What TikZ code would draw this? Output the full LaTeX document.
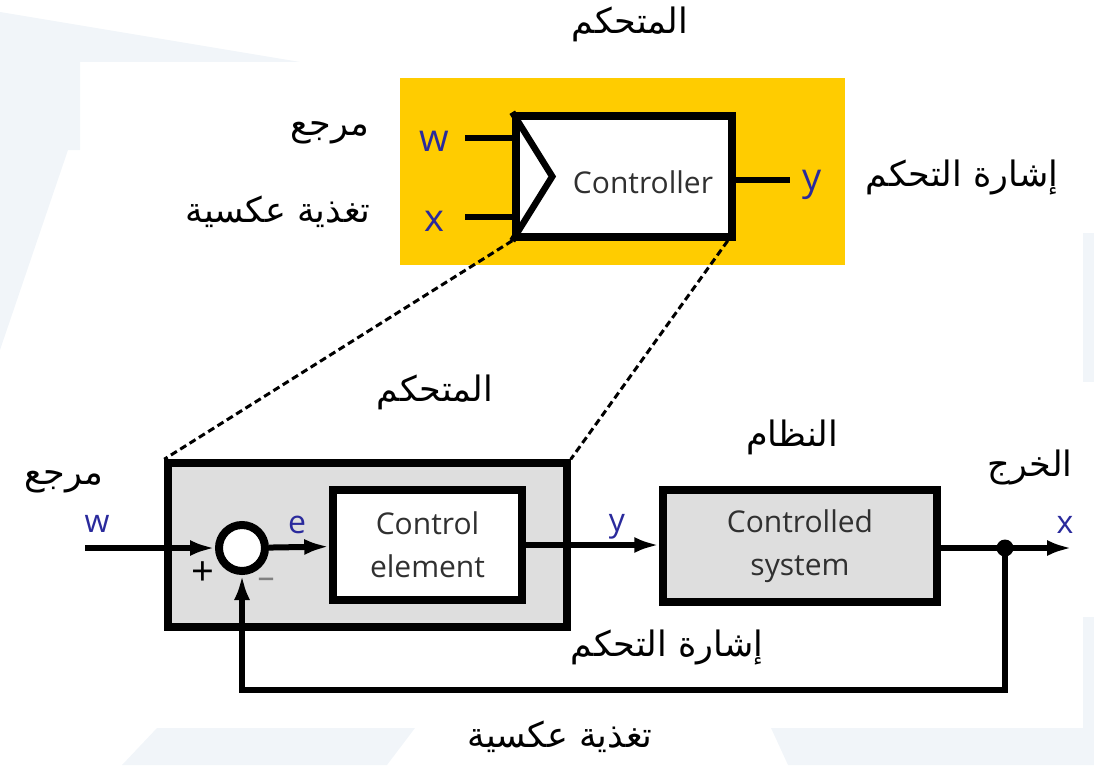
\documentclass[tikz,border=0pt]{standalone}
\usepackage{fontspec}
\usetikzlibrary{arrows.meta,positioning}
\newfontfamily\uifont{Open Sans}
\newfontfamily\arabicfont[Script=Arabic]{DejaVu Sans}
\TeXXeTstate=1
\definecolor{ctrlyellow}{HTML}{FFCC00}
\definecolor{boxgray}{HTML}{DEDEDE}
\definecolor{sigblue}{HTML}{2A2A9C}
\definecolor{wmark}{HTML}{F1F5F9}
\definecolor{txtgray}{HTML}{303030}

\tikzset{
  blk/.style={draw,line width=7.5pt,inner sep=0pt},
  wire/.style={line width=6pt},
  sig/.style={line width=6pt,-{Latex[length=25pt,width=16pt]}},
  lbl/.style={text=sigblue,font=\uifont\fontsize{32}{34}\selectfont},
  biglbl/.style={text=sigblue,font=\uifont\fontsize{38}{40}\selectfont},
  blktext/.style={text=txtgray,font=\uifont\fontsize{30}{43}\selectfont,align=center},
  ar/.style={font=\arabicfont\fontsize{35}{40}\selectfont},
  zoomline/.style={line width=3pt,dash pattern=on 7pt off 4pt}
}

\begin{document}
\begin{tikzpicture}[x=1pt,y=-1pt]
  \useasboundingbox (0,0) rectangle (1094,765);
  \fill[wmark] (0,12) -- (300,62) -- (0,62) -- cycle;
  \fill[wmark] (0,62) -- (80,62) -- (80,150) -- (68,150) -- (0,350) -- cycle;
  \fill[wmark] (122,765) -- (157,728) -- (415,728) -- (387,765) -- cycle;
  \fill[wmark] (771,728) -- (1094,728) -- (1094,765) -- (788,765) -- cycle;
  \fill[wmark] (1083,233) rectangle (1094,382);
  \fill[wmark] (1083,617) rectangle (1094,728);

  % zoomed controller
  \node[fill=ctrlyellow,minimum width=445,minimum height=187] (panel) at (622.5,171.5) {};
  \node[blk,fill=white,minimum width=216,minimum height=121] (ctrl) at (624,176.5) {};
  \draw[line width=6.5pt] (ctrl.north west) -- ([xshift=40pt]ctrl.west) -- (ctrl.south west);
  \node[text=txtgray,font=\uifont\fontsize{30}{32}\selectfont] (ctrllabel) at (643,182) {Controller};
  \coordinate (win) at (465,138);
  \coordinate (xin) at (465,217);
  \coordinate (yout) at (790,180);
  \draw[wire] (win) -- (ctrl.west |- win);
  \draw[wire] (xin) -- (ctrl.west |- xin);
  \draw[wire] (ctrl.east |- yout) -- (yout);
  \node[biglbl] (wtop) at (434,141) {w};
  \node[biglbl] (xtop) at (434,221) {x};
  \node[biglbl] (ytop) at (812,185) {y};
  \node[ar] (ctrlname) at (630,24) {\beginR المتحكم\endR};
  \node[ar] (reftop) at (330,133) {\beginR مرجع\endR};
  \node[ar] (fbtop) at (278,212) {\beginR تغذية عكسية\endR};
  \node[ar] (utop) at (962,177) {\beginR إشارة التحكم\endR};

  % loop
  \node[blk,fill=boxgray,minimum width=399,minimum height=164] (grp) at (367.5,545) {};
  \node[blk,circle,line width=8pt,fill=white,minimum size=46] (sum) at (242,548) {};
  \node[blk,fill=white,minimum width=189,minimum height=110,blktext] (elem) at (427.5,545) {Control\\element};
  \node[blk,fill=boxgray,minimum width=274,minimum height=112,blktext] (plant) at (800,546) {Controlled\\system};
  \coordinate (wstart) at (85,548);
  \coordinate (xend) at (1072,548);
  \fill (1005,548) circle (8.5) coordinate (tap);
  \coordinate (fbcorner) at (1005,690);
  \draw[sig] (wstart) -- (sum);
  \draw[sig] (sum) -- (elem);
  \draw[sig] (elem.east) -- (plant.west |- elem.east);
  \draw[sig] (plant.east |- tap) -- (xend);
  \draw[sig] (tap) -- (fbcorner) -| (sum.south);
  \draw[zoomline] (ctrl.south west) -- (grp.north west);
  \draw[zoomline] ([xshift=-8pt]ctrl.south east) -- (grp.north east);

  \node[lbl] (wlow) at (97,524) {w};
  \node[lbl] (elow) at (297,525) {e};
  \node[lbl] (ylow) at (617,527) {y};
  \node[lbl] (xlow) at (1065,525) {x};
  \node[font=\uifont\fontsize{40}{42}\selectfont] (plus) at (203,574) {+};
  \node[text=gray,font=\uifont\fontsize{34}{36}\selectfont] (minus) at (266,583) {–};

  \node[ar] (grpname) at (435,392) {\beginR المتحكم\endR};
  \node[ar] (plantname) at (792,437) {\beginR النظام\endR};
  \node[ar] (outname) at (1030,467) {\beginR الخرج\endR};
  \node[ar] (reflow) at (64,482) {\beginR مرجع\endR};
  \node[ar] (ulow) at (667,647) {\beginR إشارة التحكم\endR};
  \node[ar] (fblow) at (560,737) {\beginR تغذية عكسية\endR};
\end{tikzpicture}
\end{document}
